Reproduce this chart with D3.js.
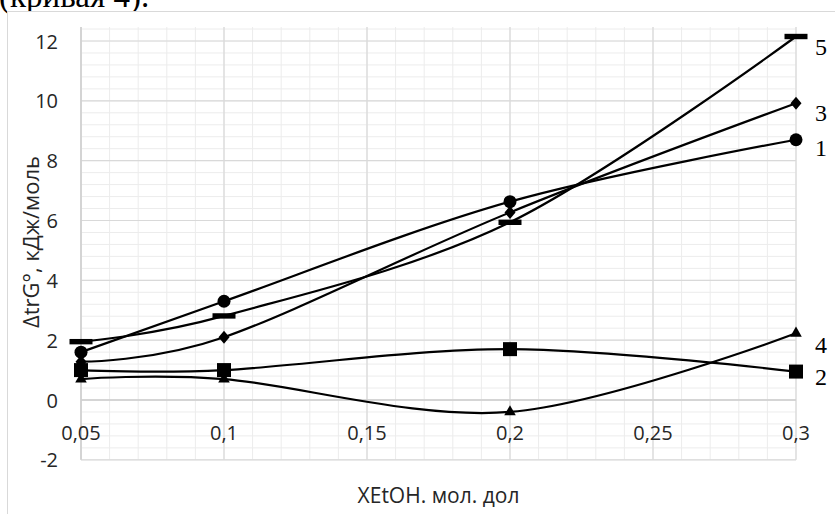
<!DOCTYPE html>
<html><head><meta charset="utf-8">
<script src="https://cdn.jsdelivr.net/npm/d3@7"></script>
<style>html,body{margin:0;padding:0;background:#fff;overflow:hidden}</style>
</head><body>
<svg id="c" width="835" height="514"></svg>
<script>
// ---- data ----
const xValues = [0.05, 0.1, 0.2, 0.3];
const curve1 = [1.6, 3.3, 6.63, 8.7];    // circles
const curve2 = [1.0, 1.0, 1.7, 0.95];    // squares
const curve3 = [1.28, 2.1, 6.27, 9.92];  // diamonds
const curve4 = [0.7, 0.7, -0.4, 2.23];   // triangles
const curve5 = [1.95, 2.81, 5.94, 12.15];// dashes
const curveNames = ["1", "2", "3", "4", "5"];
const xTickValues = [0.05, 0.1, 0.15, 0.2, 0.25, 0.3];
const xTickLabels = ["0,05", "0,1", "0,15", "0,2", "0,25", "0,3"];
const yTickValues = [-2, 0, 2, 4, 6, 8, 10, 12];
const yTickLabels = ["-2", "0", "2", "4", "6", "8", "10", "12"];
const xTitle = "XEtOH. мол. дол";
const yTitle = "ΔtrG°, кДж/моль";
const topText = "(кривая 4).";

// ---- drawing ----
const svg = d3.select("#c");
const x = d3.scaleLinear().domain([0.05, 0.3]).range([81, 796]);
const y = d3.scaleLinear().domain([0, 12]).range([400, 41]);
const yMin = -2, yMax = y.invert(27);

// text above chart (cut by the top edge, as in the reference)
svg.append("text").attr("x", -1).attr("y", 7)
  .attr("font-family", "Liberation Serif").attr("font-size", 33)
  .attr("fill", "#000").text(topText);

// chart area border
svg.append("rect").attr("x", 7.5).attr("y", 11.5).attr("width", 900).attr("height", 600)
  .attr("fill", "#fff").attr("stroke", "#d9d9d9").attr("stroke-width", 1);

const g = svg.append("g");
// minor grid
const xMinor = d3.range(0.05, 0.3001, 0.01);
const yMinor = d3.range(yMin, yMax, 0.4);
g.selectAll(".xm").data(xMinor).join("line")
  .attr("x1", d => x(d)).attr("x2", d => x(d)).attr("y1", y(yMax)).attr("y2", y(yMin))
  .attr("stroke", "#ececec").attr("stroke-width", 1);
g.selectAll(".ym").data(yMinor).join("line")
  .attr("x1", x(0.05)).attr("x2", x(0.3)).attr("y1", d => y(d)).attr("y2", d => y(d))
  .attr("stroke", "#ececec").attr("stroke-width", 1);
// major grid
g.selectAll(".xM").data(xTickValues).join("line")
  .attr("x1", d => x(d)).attr("x2", d => x(d)).attr("y1", y(yMax)).attr("y2", y(yMin))
  .attr("stroke", "#d9d9d9").attr("stroke-width", 1.2);
g.selectAll(".yM").data(yTickValues).join("line")
  .attr("x1", x(0.05)).attr("x2", x(0.3)).attr("y1", d => y(d)).attr("y2", d => y(d))
  .attr("stroke", "#d9d9d9").attr("stroke-width", 1.2);
// axis lines
g.append("line").attr("x1", x(0.05)).attr("x2", x(0.05)).attr("y1", y(yMax)).attr("y2", y(yMin))
  .attr("stroke", "#cfcfcf").attr("stroke-width", 1.5);
g.append("line").attr("x1", x(0.05)).attr("x2", x(0.3)).attr("y1", y(0)).attr("y2", y(0))
  .attr("stroke", "#cfcfcf").attr("stroke-width", 1.5);

// tick labels
svg.selectAll(".yl").data(yTickValues).join("text")
  .attr("x", 58).attr("y", d => y(d)).attr("text-anchor", "end").attr("dominant-baseline", "central")
  .attr("font-family", "Open Sans").attr("font-size", 20).attr("fill", "#262626")
  .text((d, i) => yTickLabels[i]);
svg.selectAll(".xl").data(xTickValues).join("text")
  .attr("x", d => x(d)).attr("y", y(0) + 32).attr("text-anchor", "middle").attr("dominant-baseline", "central")
  .attr("font-family", "Open Sans").attr("font-size", 20).attr("fill", "#262626")
  .text((d, i) => xTickLabels[i]);

// titles
svg.append("text").attr("x", (x(0.05) + x(0.3)) / 2).attr("y", 495)
  .attr("text-anchor", "middle").attr("dominant-baseline", "central")
  .attr("font-family", "Open Sans").attr("font-size", 21).attr("fill", "#262626").text(xTitle);
svg.append("text").attr("transform", "translate(30,242) rotate(-90)")
  .attr("text-anchor", "middle").attr("dominant-baseline", "central")
  .attr("font-family", "Open Sans").attr("font-size", 22).attr("fill", "#262626").text(yTitle);

// curves
const series = [
  {vals: curve1, sym: "circle", name: curveNames[0], dy: 8},
  {vals: curve2, sym: "square", name: curveNames[1], dy: 5},
  {vals: curve3, sym: "diamond", name: curveNames[2], dy: 10},
  {vals: curve4, sym: "triangle", name: curveNames[3], dy: 12},
  {vals: curve5, sym: "dash", name: curveNames[4], dy: 10},
];
const line = d3.line().x(d => x(d[0])).y(d => y(d[1])).curve(d3.curveCardinal.tension(0));
const diamondType = {draw(ctx, s) { const w = 5.5, h = 6.5; ctx.moveTo(0, -h); ctx.lineTo(w, 0); ctx.lineTo(0, h); ctx.lineTo(-w, 0); ctx.closePath(); }};
const dashType = {draw(ctx, s) { ctx.rect(-11.5, -2.7, 23, 5.4); }};
const symMap = {
  circle: d3.symbol().type(d3.symbolCircle).size(Math.PI * 6.5 * 6.5),
  square: d3.symbol().type(d3.symbolSquare).size(14 * 14),
  diamond: d3.symbol().type(diamondType),
  triangle: d3.symbol().type(d3.symbolTriangle).size(58),
  dash: d3.symbol().type(dashType),
};
series.forEach(s => {
  const pts = xValues.map((xv, i) => [xv, s.vals[i]]);
  svg.append("path").attr("d", line(pts)).attr("fill", "none")
    .attr("stroke", "#000").attr("stroke-width", 2.2);
});
series.forEach(s => {
  const pts = xValues.map((xv, i) => [xv, s.vals[i]]);
  svg.selectAll(null).data(pts).join("path")
    .attr("transform", d => `translate(${x(d[0])},${y(d[1])})`)
    .attr("d", symMap[s.sym]()).attr("fill", "#000");
  const last = pts[pts.length - 1];
  svg.append("text").attr("x", x(last[0]) + 19).attr("y", y(last[1]) + s.dy)
    .attr("dominant-baseline", "central")
    .attr("font-family", "Liberation Serif").attr("font-size", 24).attr("fill", "#000")
    .text(s.name);
});
</script>
</body></html>
